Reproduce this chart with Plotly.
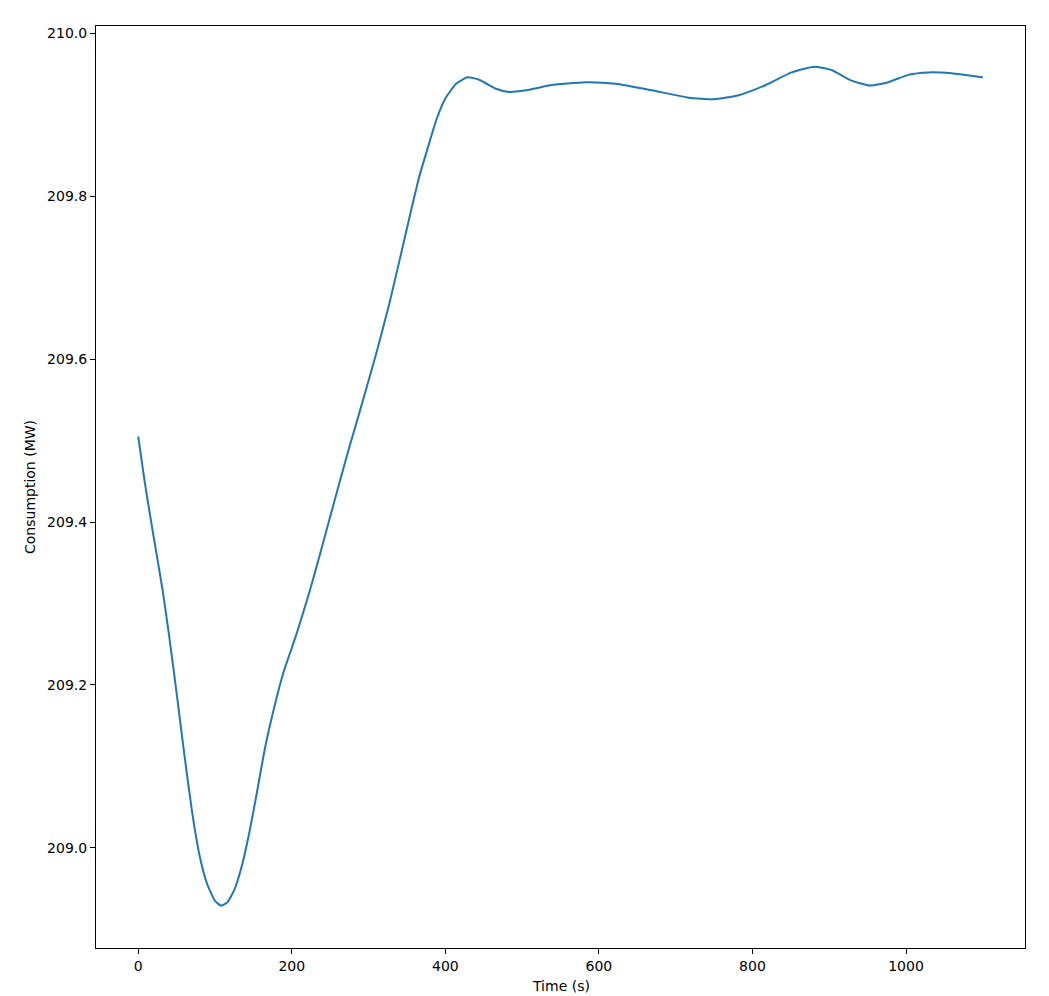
import plotly.graph_objects as go

# Time (s) and consumption (MW)
time_s = [0, 8, 16, 24, 32, 40, 50, 60, 70, 80, 90, 100, 108, 116, 125, 135, 145,
          155, 165, 177, 189, 206, 223, 236, 249, 262, 275, 288, 310, 327, 342, 355,
          366, 378, 388, 400, 414, 429, 444, 466, 483, 505, 535, 583, 622, 669, 717,
          750, 782, 816, 851, 881, 903, 929, 953, 977, 1003, 1029, 1059, 1100]
consumption_mw = [209.505, 209.452, 209.405, 209.360, 209.315, 209.262, 209.190,
                  209.115, 209.045, 208.990, 208.955, 208.935, 208.929, 208.933,
                  208.948, 208.978, 209.020, 209.070, 209.122, 209.172, 209.215,
                  209.262, 209.314, 209.358, 209.403, 209.448, 209.492, 209.534,
                  209.607, 209.668, 209.728, 209.781, 209.824, 209.862, 209.893,
                  209.920, 209.938, 209.946, 209.943, 209.932, 209.928, 209.930,
                  209.936, 209.940, 209.938, 209.930, 209.921, 209.919, 209.924,
                  209.936, 209.952, 209.959, 209.955, 209.942, 209.936, 209.940,
                  209.949, 209.952, 209.951, 209.946]

x_ticks = [0, 200, 400, 600, 800, 1000]
y_ticks = [209.0, 209.2, 209.4, 209.6, 209.8, 210.0]

fig = go.Figure()
fig.add_trace(go.Scatter(x=time_s, y=consumption_mw, mode='lines',
                         line=dict(color='#1f77b4', width=2, shape='spline', smoothing=0.5),
                         showlegend=False))

axis_style = dict(showgrid=False, zeroline=False, showline=True, linecolor='black',
                  linewidth=1, mirror=True, ticks='outside', ticklen=5, tickwidth=1,
                  tickcolor='black', automargin=False,
                  tickfont=dict(family='DejaVu Sans', size=14, color='black'))

title_font = dict(family='DejaVu Sans', size=14, color='black')

# the page body adds an 8px offset, so the margins are shifted by that much
fig.update_layout(
    width=1033, height=988,
    margin=dict(l=88, r=16, t=18, b=48),
    paper_bgcolor='white', plot_bgcolor='white',
    font=dict(family='DejaVu Sans', size=14, color='black'),
    xaxis=dict(range=[-55, 1155], tickvals=x_ticks, ticktext=[str(v) for v in x_ticks],
               **axis_style),
    yaxis=dict(range=[208.877, 210.009], tickvals=y_ticks,
               ticktext=['%.1f' % v for v in y_ticks], **axis_style),
    annotations=[
        dict(text='Time (s)', xref='paper', yref='paper', x=0.5, y=0,
             xanchor='center', yanchor='top', yshift=-28, showarrow=False, font=title_font),
        dict(text='Consumption (MW)', xref='paper', yref='paper', x=0, y=0.5,
             xanchor='right', yanchor='middle', xshift=-56, textangle=-90,
             showarrow=False, font=title_font),
    ],
)

fig.write_html('out.html')
print('finished')
